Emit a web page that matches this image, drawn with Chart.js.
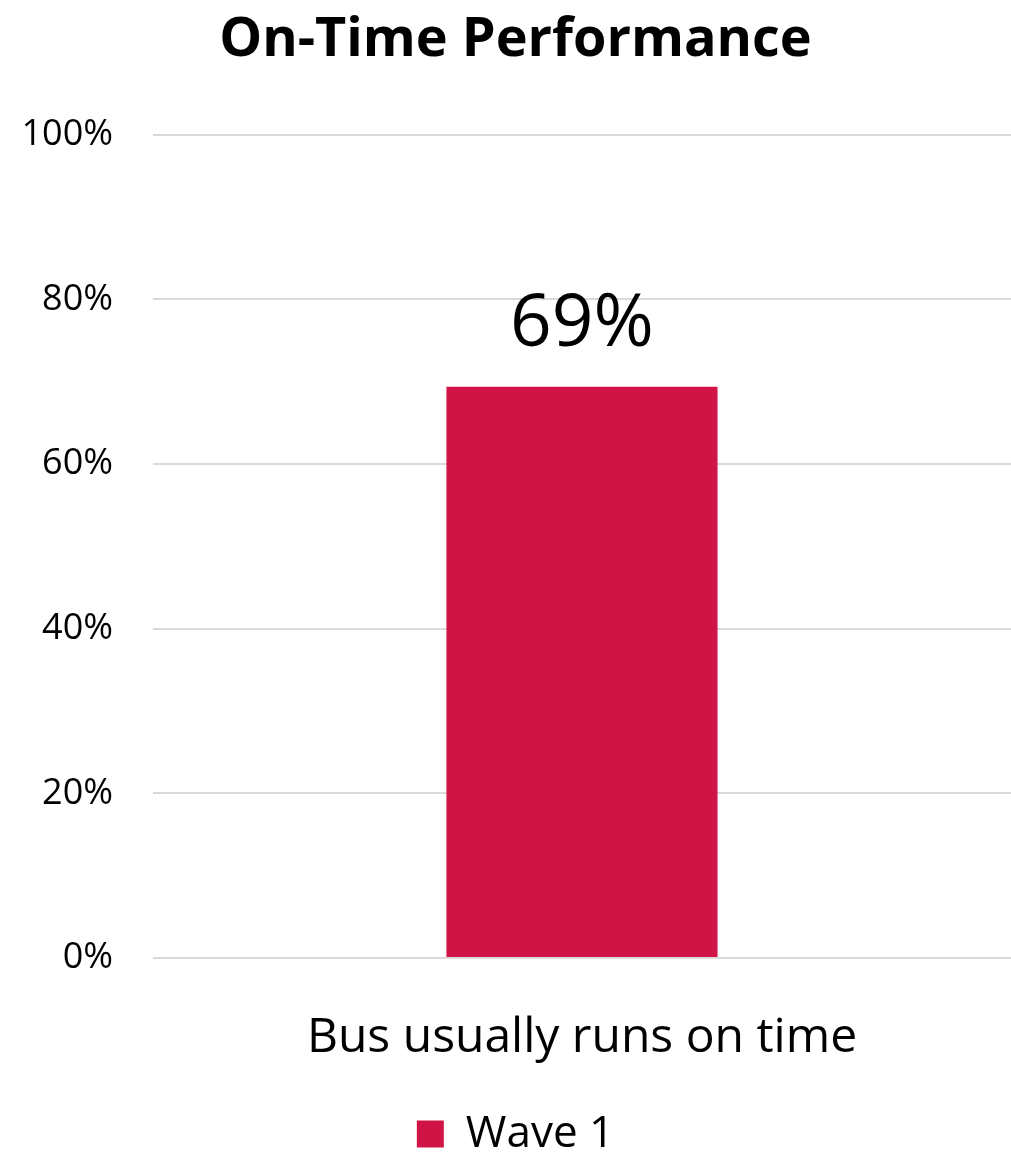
<!DOCTYPE html>
<html>
<head>
<meta charset="utf-8">
<script src="https://cdn.jsdelivr.net/npm/chart.js@4.4.1/dist/chart.umd.min.js"></script>
<style>
  html, body { margin: 0; padding: 0; background: #fff; }
  #wrap { width: 1011px; height: 1155px; }
</style>
</head>
<body>
<div id="wrap"><canvas id="chart" width="1011" height="1155"></canvas></div>
<script>
/* ---------- DATA ---------- */
const categories = ["Bus usually runs on time"];
const seriesName = "Wave 1";
const wave1Values = [69.4];
const yTicks = [0, 20, 40, 60, 80, 100];

const BAR_COLOR = "#D01446";
const FONT = "'Open Sans', 'Noto Sans', sans-serif";

/* ---------- VALUE LABEL ON TOP OF BAR ---------- */
const barLabels = {
  id: "barLabels",
  afterDatasetsDraw(chart) {
    const c = chart.ctx;
    chart.data.datasets.forEach((ds, i) => {
      chart.getDatasetMeta(i).data.forEach((bar, j) => {
        c.save();
        c.font = "73px " + FONT;
        c.fillStyle = "#000";
        c.textAlign = "center";
        c.textBaseline = "alphabetic";
        c.fillText(Math.round(ds.data[j]) + "%", bar.x, bar.y - 41);
        c.restore();
      });
    });
  }
};

new Chart(document.getElementById("chart"), {
  type: "bar",
  data: {
    labels: categories,
    datasets: [{
      label: seriesName,
      data: wave1Values,
      backgroundColor: BAR_COLOR,
      barPercentage: 0.316,
      categoryPercentage: 1
    }]
  },
  options: {
    responsive: false,
    animation: false,
    layout: { padding: { left: 20, right: 0, top: 0, bottom: -11 } },
    plugins: {
      title: {
        display: true,
        text: "On-Time Performance",
        color: "#000",
        font: { family: FONT, size: 54, weight: "bold" },
        padding: { top: 8, bottom: 62 }
      },
      legend: {
        position: "bottom",
        labels: {
          color: "#000",
          font: { family: FONT, size: 44 },
          boxWidth: 27,
          boxHeight: 27,
          padding: 2
        }
      },
      tooltip: { enabled: false }
    },
    scales: {
      y: {
        min: 0,
        max: 100,
        afterBuildTicks: axis => { axis.ticks = yTicks.map(v => ({ value: v })); },
        afterFit: axis => { axis.width = 133; },
        ticks: {
          color: "#000",
          font: { family: FONT, size: 36 },
          padding: 40,
          callback: v => v + "%"
        },
        grid: { color: "#d9d9d9", lineWidth: 2, drawTicks: false },
        border: { display: false }
      },
      x: {
        ticks: {
          color: "#000",
          font: { family: FONT, size: 48, lineHeight: 1.0 },
          padding: 48
        },
        grid: { display: false },
        border: { display: false }
      }
    }
  },
  plugins: [barLabels]
});
</script>
</body>
</html>
